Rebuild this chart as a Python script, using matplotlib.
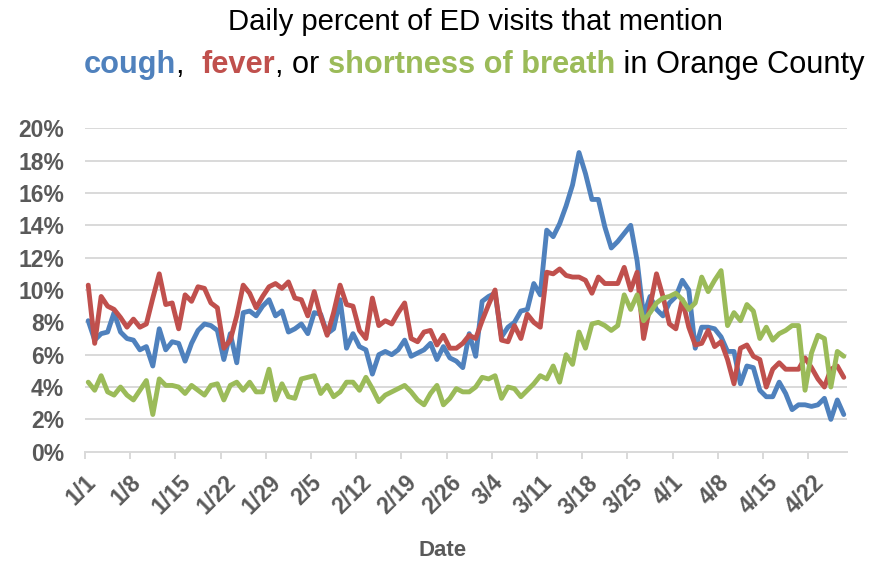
import matplotlib
matplotlib.use('Agg')
import matplotlib.pyplot as plt
import matplotlib.transforms as mtransforms
import numpy as np

tick_labels = ['1/1', '1/8', '1/15', '1/22', '1/29', '2/5', '2/12', '2/19', '2/26',
               '3/4', '3/11', '3/18', '3/25', '4/1', '4/8', '4/15', '4/22']
y_ticks = [0, 2, 4, 6, 8, 10, 12, 14, 16, 18, 20]

cough = [8.1, 6.9, 7.3, 7.4, 8.6, 7.4, 7.0, 6.9, 6.3, 6.5,
         5.3, 7.6, 6.3, 6.8, 6.7, 5.6, 6.7, 7.5, 7.9, 7.8,
         7.5, 5.7, 7.3, 5.5, 8.6, 8.7, 8.4, 9.0, 9.4, 8.4,
         8.7, 7.4, 7.6, 7.9, 7.3, 8.6, 8.5, 7.3, 7.6, 9.4,
         6.4, 7.3, 6.5, 6.3, 4.8, 6.0, 6.2, 6.0, 6.3, 6.9,
         5.9, 6.1, 6.3, 6.7, 5.7, 6.5, 5.8, 5.6, 5.2, 7.3,
         5.9, 9.3, 9.6, 9.8, 7.1, 7.7, 8.0, 8.7, 8.8, 10.4,
         9.7, 13.7, 13.3, 14.1, 15.2, 16.5, 18.5, 17.2, 15.6, 15.6,
         13.9, 12.6, 13.0, 13.5, 14.0, 11.8, 8.4, 9.6, 8.8, 8.4,
         9.2, 9.6, 10.6, 10.0, 6.4, 7.7, 7.7, 7.6, 7.1, 6.2,
         6.2, 4.2, 5.3, 5.2, 3.8, 3.4, 3.4, 4.3, 3.6, 2.6,
         2.9, 2.9, 2.8, 2.9, 3.3, 2.0, 3.2, 2.3]

fever = [10.3, 6.7, 9.6, 9.0, 8.8, 8.3, 7.7, 8.2, 7.7, 7.9,
         9.5, 11.0, 9.1, 9.2, 7.6, 9.7, 9.3, 10.2, 10.1, 9.2,
         8.9, 6.4, 6.9, 8.4, 10.3, 9.8, 8.9, 9.6, 10.2, 10.4,
         10.1, 10.5, 9.5, 9.4, 8.4, 9.9, 8.4, 7.2, 8.6, 10.3,
         9.1, 9.0, 7.5, 7.0, 9.5, 7.8, 8.1, 7.9, 8.6, 9.2,
         7.0, 6.8, 7.4, 7.5, 6.6, 7.2, 6.4, 6.4, 6.7, 7.2,
         7.0, 8.1, 9.1, 10.0, 6.9, 6.8, 7.8, 7.0, 8.5, 8.0,
         7.7, 11.1, 11.0, 11.3, 10.9, 10.8, 10.8, 10.6, 9.8, 10.8,
         10.4, 10.4, 10.4, 11.4, 10.0, 11.1, 7.0, 9.0, 11.0, 9.6,
         7.9, 7.6, 9.4, 7.7, 6.6, 6.7, 7.5, 6.5, 6.8, 5.7,
         4.2, 6.4, 6.6, 5.9, 5.7, 4.0, 5.1, 5.5, 5.1, 5.1,
         5.1, 5.8, 5.2, 4.5, 4.0, 5.1, 5.3, 4.6]

breath = [4.3, 3.8, 4.7, 3.7, 3.5, 4.0, 3.5, 3.2, 3.8, 4.4,
          2.3, 4.5, 4.1, 4.1, 4.0, 3.6, 4.1, 3.8, 3.5, 4.1,
          4.2, 3.2, 4.1, 4.3, 3.8, 4.3, 3.7, 3.7, 5.1, 3.2,
          4.2, 3.4, 3.3, 4.5, 4.6, 4.7, 3.6, 4.1, 3.4, 3.7,
          4.3, 4.3, 3.8, 4.6, 3.9, 3.1, 3.5, 3.7, 3.9, 4.1,
          3.7, 3.2, 2.9, 3.6, 4.1, 2.9, 3.3, 3.9, 3.7, 3.7,
          4.0, 4.6, 4.5, 4.7, 3.3, 4.0, 3.9, 3.4, 3.8, 4.2,
          4.7, 4.5, 5.3, 4.3, 6.0, 5.4, 7.4, 6.4, 7.9, 8.0,
          7.8, 7.5, 7.8, 9.7, 8.8, 9.7, 8.1, 8.6, 9.2, 9.5,
          9.6, 9.8, 9.4, 8.8, 9.2, 10.8, 9.9, 10.6, 11.2, 7.8,
          8.6, 8.1, 9.1, 8.7, 7.0, 7.7, 6.9, 7.3, 7.5, 7.8,
          7.8, 3.8, 6.1, 7.2, 7.0, 4.0, 6.2, 5.9]

BLUE = '#4f81bd'
RED = '#c0504d'
GREEN = '#9bbb59'
GRID = '#d9d9d9'
LABEL = '#595959'

plt.rcParams['font.family'] = ['Liberation Sans', 'DejaVu Sans']

W, H = 878, 563
fig = plt.figure(figsize=(W / 100, H / 100), dpi=100)
left, right, top, bottom = 85, 847, 128.3, 451.7
ax = fig.add_axes([left / W, 1 - bottom / H, (right - left) / W, (bottom - top) / H])

n = len(cough)
x = np.arange(n) + 0.5
for series, col in [(cough, BLUE), (fever, RED), (breath, GREEN)]:
    ax.plot(x, series, color=col, lw=3.5, solid_joinstyle='round',
            solid_capstyle='round', zorder=3, clip_on=False)

ax.set_xlim(0, n)
ax.set_ylim(0, 20)
ax.set_yticks(y_ticks)
ax.set_yticklabels([f'{v}%' for v in y_ticks])
ax.set_xticks(np.arange(len(tick_labels)) * 7)
ax.set_xticklabels(tick_labels, rotation=45, ha='center', va='top')

for v in y_ticks[1:]:
    ax.axhline(v, color=GRID, lw=1.4, zorder=1)

for s in ['top', 'right', 'left']:
    ax.spines[s].set_visible(False)
ax.spines['bottom'].set_color(GRID)
ax.spines['bottom'].set_linewidth(1.4)

ax.tick_params(axis='y', length=0, pad=15, labelsize=16.5, labelcolor=LABEL)
ax.tick_params(axis='x', length=5, width=1.4, color=GRID, direction='out',
               pad=9, labelsize=16.5, labelcolor=LABEL)
shift = mtransforms.ScaledTranslation(-4 / 100, 0, fig.dpi_scale_trans)
for lbl in ax.get_xticklabels():
    lbl.set_transform(lbl.get_transform() + shift)
for lbl in ax.get_yticklabels() + ax.get_xticklabels():
    lbl.set_fontweight('bold')

fig.text(443 / W, 1 - 551 / H, 'Date', ha='center', va='center',
         fontsize=16, fontweight='bold', color=LABEL)

# Title
renderer = fig.canvas.get_renderer()
base = 18
t1 = fig.text(475 / W, 1 - 22 / H, 'Daily percent of ED visits that mention',
              ha='center', va='center', fontsize=base, color='black')
w1 = t1.get_window_extent(renderer).width
t1.set_fontsize(base * 494 / w1)

pieces = [('cough', BLUE, 'bold'), (',  ', 'black', 'normal'),
          ('fever', RED, 'bold'), (', or ', 'black', 'normal'),
          ('shortness of breath', GREEN, 'bold'),
          (' in Orange County', 'black', 'normal')]
texts = []
for s, c, wgt in pieces:
    t = fig.text(0, 1 - 65 / H, s, ha='left', va='center', fontsize=base,
                 color=c, fontweight=wgt)
    texts.append(t)
total = sum(t.get_window_extent(renderer).width for t in texts)
fs2 = base * 783 / total
for t in texts:
    t.set_fontsize(fs2)
widths = [t.get_window_extent(renderer).width for t in texts]
x0 = 474.5 - sum(widths) / 2
for t, w in zip(texts, widths):
    t.set_x(x0 / W)
    x0 += w

fig.savefig('out.png', dpi=100)
